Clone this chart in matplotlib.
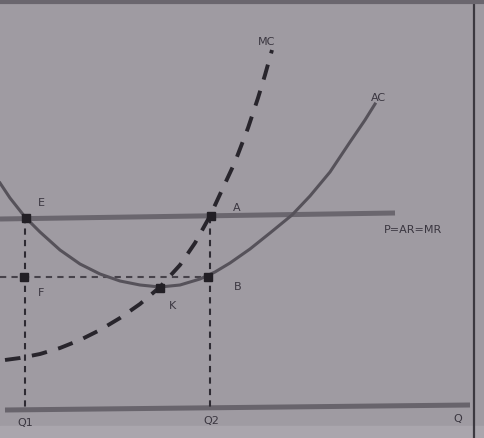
import matplotlib.pyplot as plt

# 读出来的数据（图上的像素坐标，y 向下）
ac_x = [0, 10, 25, 40, 60, 80, 100, 120, 140, 160, 180, 200, 215, 230, 250, 270, 292, 310, 330, 350, 365, 375]
ac_y = [183, 198, 217, 232, 250, 264, 274, 281, 285, 287, 285, 279, 272, 263, 249, 233, 215, 196, 172, 142, 120, 104]

mc_x = [5, 20, 40, 60, 80, 100, 120, 140, 160, 180, 195, 210, 222, 235, 248, 258, 265, 272]
mc_y = [360, 358, 354, 348, 340, 330, 318, 304, 287, 265, 243, 216, 190, 162, 128, 98, 75, 50]

price_x = [0, 395]
price_y = [219, 213]
axis_x = [5, 470]
axis_y = [410, 405]

q1 = 25
q2 = 210
p_level = 217
ac_min = 277

points = {'E': (26, 218), 'A': (211, 216), 'F': (24, 277), 'B': (208, 277), 'K': (160, 288)}
labels = {'E': (41, 203), 'A': (237, 208), 'F': (41, 293), 'B': (238, 287), 'K': (173, 306),
          'MC': (267, 42), 'AC': (378, 98), 'P=AR=MR': (413, 230),
          'Q1': (25, 423), 'Q2': (211, 421), 'Q': (458, 419)}

bg = '#9f9ba2'
fig = plt.figure(figsize=(4.85, 4.38), dpi=100, facecolor=bg)
ax = fig.add_axes([0, 0, 1, 1], facecolor=bg)
ax.set_xlim(0, 485)
ax.set_ylim(438, 0)
ax.axis('off')

# 边框
ax.plot([474, 474], [0, 438], color='#3c3940', lw=1.6)
ax.plot([0, 485], [2, 2], color='#6a666e', lw=3)
ax.fill_between([0, 485], 426, 438, color='#aaa6ad')

# 坐标轴和价格线
ax.plot(axis_x, axis_y, color='#68646c', lw=3.6, solid_capstyle='butt')
ax.plot(price_x, price_y, color='#6a666e', lw=3.6, solid_capstyle='butt')

# 虚线
ax.plot([q1, q1], [p_level, 408], color='#2e2b33', lw=1.5, ls=(0, (3, 2.5)))
ax.plot([q2, q2], [p_level, 407], color='#2e2b33', lw=1.5, ls=(0, (3, 2.5)))
ax.plot([0, q2], [ac_min, ac_min], color='#46424a', lw=1.5, ls=(0, (3, 2.5)))

# 曲线
ax.plot(ac_x, ac_y, color='#56525a', lw=2.2)
ax.plot(mc_x, mc_y, color='#28252c', lw=2.8, ls=(0, (4, 3)))

for name, (x, y) in points.items():
    ax.plot(x, y, 's', color='#221f25', ms=6)

for text, (x, y) in labels.items():
    ax.text(x, y, text, ha='center', va='center', fontsize=8, color='#3a3640',
            family='DejaVu Sans')

fig.savefig('out.png', dpi=100, facecolor=bg)
